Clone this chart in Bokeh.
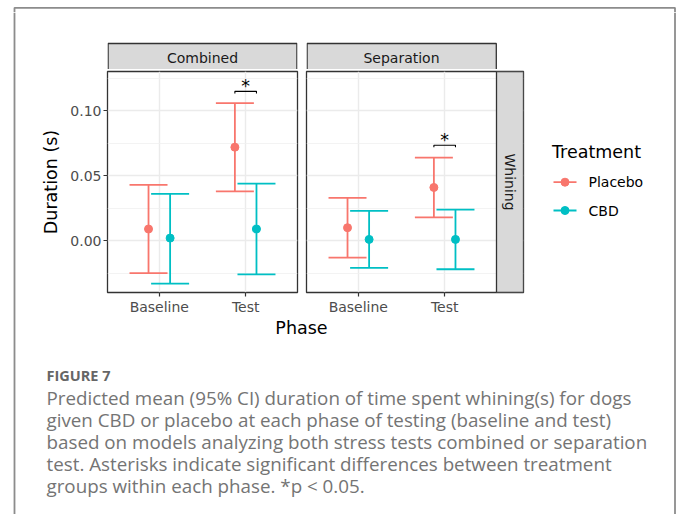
import numpy as np
from bokeh.plotting import figure
from bokeh.models import Range1d, FixedTicker, PrintfTickFormatter
from bokeh.layouts import row, column
from bokeh.embed import file_html
from bokeh.resources import INLINE
from bokeh.core.properties import value

# ---------------- data ----------------
phases = ["Baseline", "Test"]
treatments = ["Placebo", "CBD"]
facets = ["Combined", "Separation"]
row_facet = "Whining"

combined_placebo_mean = [0.009, 0.072]
combined_placebo_lo = [-0.025, 0.038]
combined_placebo_hi = [0.043, 0.106]
combined_cbd_mean = [0.002, 0.009]
combined_cbd_lo = [-0.033, -0.026]
combined_cbd_hi = [0.036, 0.044]

separation_placebo_mean = [0.010, 0.041]
separation_placebo_lo = [-0.013, 0.018]
separation_placebo_hi = [0.033, 0.064]
separation_cbd_mean = [0.001, 0.001]
separation_cbd_lo = [-0.021, -0.022]
separation_cbd_hi = [0.023, 0.024]

sig_phase = ["Test", "Test"]          # per facet
sig_bracket_y = [0.115, 0.0735]       # per facet
sig_label = "*"

y_ticks = [0.0, 0.05, 0.10]
y_minor_ticks = [-0.025, 0.025, 0.075, 0.125]

axis_title_x = "Phase"
axis_title_y = "Duration (s)"
legend_title = "Treatment"
fig_label = "FIGURE 7"
caption_lines = [
    "Predicted mean (95% CI) duration of time spent whining(s) for dogs",
    "given CBD or placebo at each phase of testing (baseline and test)",
    "based on models analyzing both stress tests combined or separation",
    "test. Asterisks indicate significant differences between treatment",
    "groups within each phase. *p < 0.05.",
]

DATA = {
    ("Combined", "Placebo"): (combined_placebo_mean, combined_placebo_lo, combined_placebo_hi),
    ("Combined", "CBD"): (combined_cbd_mean, combined_cbd_lo, combined_cbd_hi),
    ("Separation", "Placebo"): (separation_placebo_mean, separation_placebo_lo, separation_placebo_hi),
    ("Separation", "CBD"): (separation_cbd_mean, separation_cbd_lo, separation_cbd_hi),
}

# ---------------- style ----------------
COLORS = {"Placebo": "#F8766D", "CBD": "#00BFC4"}
DODGE = {"Placebo": -0.125, "CBD": 0.125}
CAP = 0.22
Y0, Y1 = -0.0399, 0.1303
X0, X1 = 0.4, 2.6
PANEL_W = 190
STRIP_R_W = 27
EXTRA_X = (X1 - X0) * STRIP_R_W / PANEL_W
FONT_NAME = "DejaVu Sans"
FONT = value(FONT_NAME)
CAP_FONT = value("Open Sans")
BORDER = "#8c8c8c"
STRIP_FILL = "#D9D9D9"
DARK = "#333333"

PANEL_H = 248      # figure height of panels (frame 223 px)
PB_TOP, PB_BOT = 2, 23


def pxfig(x0, x1, y0, y1, bl=0, br=0):
    """Figure whose data coordinates equal page pixels (frame region)."""
    p = figure(width=x1 - x0, height=y1 - y0,
               x_range=Range1d(x0 + bl, x1 - br),
               y_range=Range1d(y1, y0), output_backend="svg",
               toolbar_location=None, x_axis_location=None,
               y_axis_location=None, min_border=0, min_border_left=bl,
               min_border_right=br, min_border_top=0, min_border_bottom=0,
               outline_line_color=None, background_fill_color="white",
               border_fill_color="white")
    p.grid.grid_line_color = None
    return p


def make_panel(fi, width, bl, br, show_y, extra):
    facet = facets[fi]
    p = figure(width=width, height=PANEL_H, x_range=Range1d(X0, X1 + extra),
               y_range=Range1d(Y0, Y1), output_backend="svg",
               toolbar_location=None, min_border_left=bl, min_border_right=br,
               min_border_top=PB_TOP, min_border_bottom=PB_BOT,
               y_axis_location="left" if show_y else None,
               x_axis_location="below",
               outline_line_color=DARK, outline_line_width=1.3,
               background_fill_color="white", border_fill_color="white")
    ticks_x = [i + 1 for i in range(len(phases))]
    p.xgrid.ticker = FixedTicker(ticks=ticks_x)
    p.xgrid.grid_line_color = "#EBEBEB"
    p.xgrid.grid_line_width = 1.4
    p.ygrid.ticker = FixedTicker(ticks=y_ticks, minor_ticks=y_minor_ticks)
    p.ygrid.grid_line_color = "#EBEBEB"
    p.ygrid.grid_line_width = 1.4
    p.ygrid.minor_grid_line_color = "#F0F0F0"
    p.ygrid.minor_grid_line_width = 0.8

    xa = p.xaxis[0]
    xa.ticker = FixedTicker(ticks=ticks_x)
    xa.major_label_overrides = {i + 1: ph for i, ph in enumerate(phases)}
    axes = [xa]
    if show_y:
        ya = p.yaxis[0]
        ya.ticker = FixedTicker(ticks=y_ticks)
        ya.formatter = PrintfTickFormatter(format="%.2f")
        ya.axis_label = axis_title_y
        ya.axis_label_text_font = FONT_NAME
        ya.axis_label_text_font_size = "17.5px"
        ya.axis_label_text_font_style = "normal"
        ya.axis_label_text_color = "black"
        ya.axis_label_standoff = 6
        axes.append(ya)
    for a in axes:
        a.axis_line_color = None
        a.major_tick_out = 4
        a.major_tick_in = 0
        a.major_tick_line_color = DARK
        a.major_tick_line_width = 1.2
        a.minor_tick_line_color = None
        a.major_label_text_font = FONT_NAME
        a.major_label_text_font_size = "14px"
        a.major_label_text_color = "#4D4D4D"
        a.major_label_standoff = 2

    if extra > 0:
        p.quad(left=[X1], right=[X1 + extra], bottom=[Y0], top=[Y1],
               fill_color=STRIP_FILL, line_color=DARK, line_width=1.3)
        p.text(x=[X1 + extra / 2], y=[(Y0 + Y1) / 2], text=[row_facet],
               angle=-np.pi / 2, text_align="center", text_baseline="middle",
               text_font=FONT, text_font_size="14px", text_color="#1A1A1A")

    # error bars
    for t in treatments:
        mean, lo, hi = DATA[(facet, t)]
        xs = [i + 1 + DODGE[t] for i in range(len(phases))]
        c = COLORS[t]
        p.segment(x0=xs, y0=lo, x1=xs, y1=hi, line_color=c, line_width=1.8)
        p.segment(x0=[x - CAP for x in xs], y0=hi, x1=[x + CAP for x in xs],
                  y1=hi, line_color=c, line_width=1.8)
        p.segment(x0=[x - CAP for x in xs], y0=lo, x1=[x + CAP for x in xs],
                  y1=lo, line_color=c, line_width=1.8)
    # points
    for t in treatments:
        mean, lo, hi = DATA[(facet, t)]
        xs = [i + 1 + DODGE[t] for i in range(len(phases))]
        p.scatter(xs, mean, size=8, fill_color=COLORS[t], line_color=COLORS[t])

    # significance bracket
    k = phases.index(sig_phase[fi]) + 1
    xa_, xb_ = k + DODGE[treatments[0]], k + DODGE[treatments[1]]
    yb = sig_bracket_y[fi]
    tip = 0.0016
    p.line([xa_, xa_, xb_, xb_], [yb - tip, yb, yb, yb - tip],
           line_color="black", line_width=1.1)
    p.text(x=[k], y=[yb], text=[sig_label], text_align="center",
           text_baseline="alphabetic", y_offset=-5, text_font=FONT,
           text_font_size="17.5px", text_color="black")
    return p


# ---------------- pieces (page pixel coordinates) ----------------
LB, RB, TB = 14.0, 674.5, 7.3

top_border = pxfig(0, 680, 0, 12)
top_border.line([LB, LB, RB, RB], [12, TB, TB, 12],
                line_color=BORDER, line_width=1.8)

left_border = pxfig(0, 16, 12, 514)
left_border.line([LB, LB], [12, 514], line_color=BORDER, line_width=1.8)
right_border = pxfig(668, 680, 12, 514)
right_border.line([RB, RB], [12, 514], line_color=BORDER, line_width=1.8)

stripA = pxfig(16, 302, 12, 69, bl=91, br=5)
stripA.quad(left=[107.6], right=[296.4], top=[43], bottom=[72],
            fill_color=STRIP_FILL, line_color=DARK, line_width=1.3)
stripA.text(x=[202], y=[57], text=[facets[0]], text_align="center",
            text_baseline="middle", text_font=FONT, text_font_size="14px",
            text_color="#1A1A1A")
stripB = pxfig(302, 530, 12, 69, bl=4, br=7)
stripB.quad(left=[306.6], right=[495.8], top=[43], bottom=[72],
            fill_color=STRIP_FILL, line_color=DARK, line_width=1.3)
stripB.text(x=[401], y=[57], text=[facets[1]], text_align="center",
            text_baseline="middle", text_font=FONT, text_font_size="14px",
            text_color="#1A1A1A")

panelA = make_panel(0, 286, 91, 5, True, 0.0)
panelB = make_panel(1, 228, 4, 7, False, EXTRA_X)

legend_fig = pxfig(530, 668, 12, 317)
legend_fig.text(x=[551.5], y=[151.5], text=[legend_title], text_align="left",
                text_baseline="middle", text_font=FONT,
                text_font_size="17.5px", text_color="black")
for i, t in enumerate(treatments):
    yk = 181.7 + 28.3 * i
    legend_fig.line([553, 576], [yk, yk], line_color=COLORS[t], line_width=1.8)
    legend_fig.scatter([564.5], [yk], size=8, fill_color=COLORS[t],
                       line_color=COLORS[t])
    legend_fig.text(x=[588], y=[yk], text=[t], text_align="left",
                    text_baseline="middle", text_font=FONT,
                    text_font_size="14px", text_color="black")

bottom = pxfig(16, 668, 317, 514)
bottom.text(x=[301], y=[327.5], text=[axis_title_x], text_align="center",
            text_baseline="middle", text_font=FONT, text_font_size="17.5px",
            text_color="black")
bottom.text(x=[46], y=[375], text=[fig_label], text_align="left",
            text_baseline="middle", text_font=CAP_FONT, text_font_size="14.5px",
            text_font_style="bold", text_color="#666666")
bottom.text(x=[46] * len(caption_lines),
            y=[397 + 22 * i for i in range(len(caption_lines))],
            text=caption_lines, text_align="left", text_baseline="middle",
            text_font=CAP_FONT, text_font_size="18.8px", text_color="#747474")

colA = column(stripA, panelA)
colB = column(stripB, panelB)
top_row = row(colA, colB, legend_fig)
middle = column(top_row, bottom)
layout = column(top_border, row(left_border, middle, right_border))

open("out.html", "w").write(file_html(layout, INLINE))
